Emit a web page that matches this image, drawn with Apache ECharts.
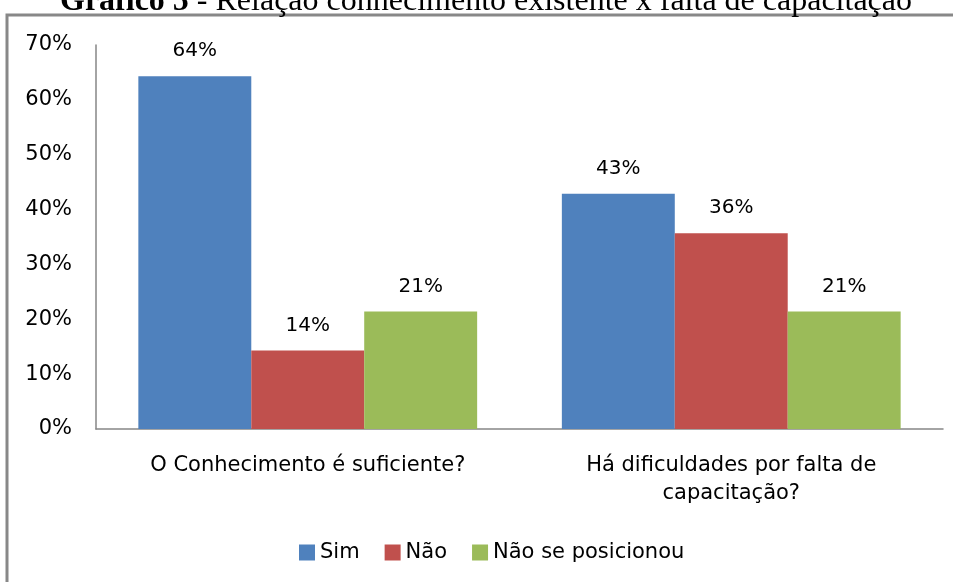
<!DOCTYPE html>
<html>
<head>
<meta charset="utf-8">
<script src="https://cdn.jsdelivr.net/npm/echarts@6/dist/echarts.min.js"></script>
<style>
  html, body { margin: 0; padding: 0; background: #fff; }
  #chart { width: 953px; height: 582px; }
</style>
</head>
<body>
<div id="chart"></div>
<script>
// dados do gráfico
const categories = ['O Conhecimento é suficiente?', 'Há dificuldades por falta de\ncapacitação?'];
const seriesNames = ['Sim', 'Não', 'Não se posicionou'];
const sim = [64.3, 42.9];
const nao = [14.3, 35.7];
const naoPosicionou = [21.4, 21.4];
const yTicks = [0, 10, 20, 30, 40, 50, 60, 70];

const colors = ['#4F81BD', '#C0504D', '#9BBB59'];
const font = 'DejaVu Sans';

const chart = echarts.init(document.getElementById('chart'));

function barSeries(name, data) {
  return {
    name: name,
    type: 'bar',
    data: data,
    barGap: 0,
    barCategoryGap: '20%',
    label: {
      show: true,
      position: 'top',
      distance: 15,
      color: '#000',
      fontFamily: font,
      fontSize: 20,
      formatter: p => Math.round(p.value) + '%'
    }
  };
}

const option = {
  animation: false,
  color: colors,
  graphic: [
    {
      type: 'rect',
      shape: { x: 7, y: 15, width: 960, height: 580 },
      style: { fill: 'none', stroke: '#888', lineWidth: 3 },
      z: -1
    },
    {
      type: 'text',
      x: 486,
      y: 18,
      style: {
        text: '{b|Gráfico 5} - Relação conhecimento existente x falta de capacitação',
        align: 'center',
        verticalAlign: 'bottom',
        fontFamily: 'Liberation Serif',
        fontSize: 32,
        fill: '#000',
        rich: {
          b: { fontFamily: 'Liberation Serif', fontSize: 32, fontWeight: 'bold', fill: '#000' }
        }
      }
    }
  ],
  grid: { left: 96, right: 10, top: 45, bottom: 153 },
  legend: {
    data: seriesNames,
    bottom: 14,
    left: 294,
    icon: 'rect',
    itemWidth: 16,
    itemHeight: 16,
    itemGap: 25,
    textStyle: { fontFamily: font, fontSize: 21, color: '#000' }
  },
  xAxis: {
    type: 'category',
    data: categories,
    axisLine: { lineStyle: { color: '#868686', width: 1.5 } },
    axisTick: { show: false },
    axisLabel: {
      margin: 23,
      color: '#000',
      fontFamily: font,
      fontSize: 21,
      lineHeight: 28,
      interval: 0
    }
  },
  yAxis: {
    type: 'value',
    min: yTicks[0],
    max: yTicks[yTicks.length - 1],
    interval: 10,
    axisLine: { show: true, lineStyle: { color: '#868686', width: 1.5 } },
    axisTick: { show: false },
    splitLine: { show: false },
    axisLabel: {
      margin: 24,
      color: '#000',
      fontFamily: font,
      fontSize: 21,
      formatter: v => v + '%'
    }
  },
  series: [
    barSeries(seriesNames[0], sim),
    barSeries(seriesNames[1], nao),
    barSeries(seriesNames[2], naoPosicionou)
  ]
};

chart.setOption(option);
</script>
</body>
</html>
